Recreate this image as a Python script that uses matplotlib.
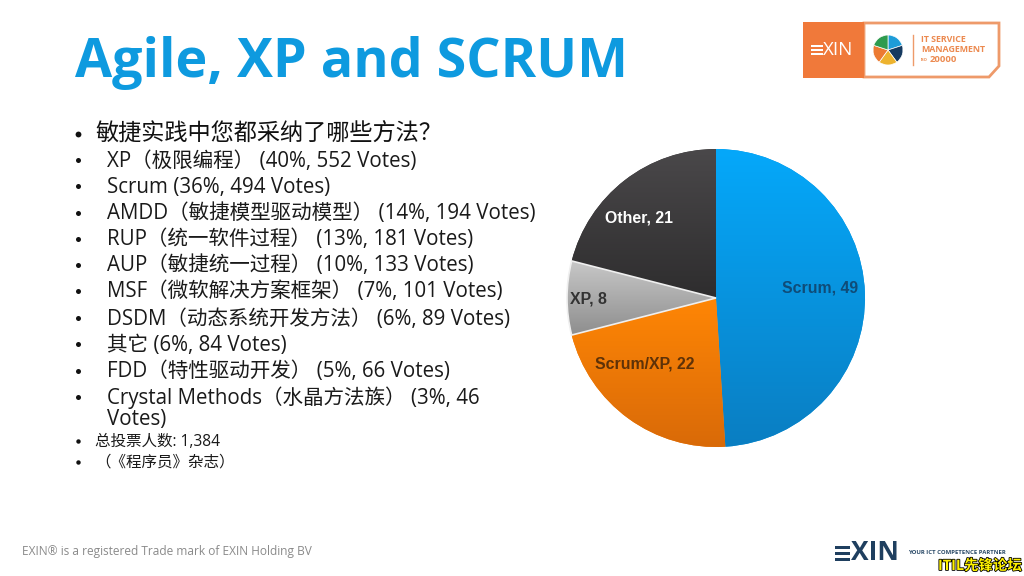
"""
Slide: Agile, XP and SCRUM survey results with a pie chart
"""
import matplotlib
matplotlib.use('Agg')
import matplotlib.patheffects as path_effects
import matplotlib.pyplot as plt
import numpy as np
from matplotlib.colors import LinearSegmentedColormap
from matplotlib.patches import Polygon, Rectangle

plt.rcParams['font.family'] = ['Open Sans', 'Noto Sans CJK SC', 'DejaVu Sans']

W, H = 1024, 576

TITLE = 'Agile, XP and SCRUM'
QUESTION = '敏捷实践中您都采纳了哪些方法？'
SURVEY_ITEMS = [
    'XP（极限编程） (40%, 552 Votes)',
    'Scrum (36%, 494 Votes)',
    'AMDD（敏捷模型驱动模型） (14%, 194 Votes)',
    'RUP（统一软件过程） (13%, 181 Votes)',
    'AUP（敏捷统一过程） (10%, 133 Votes)',
    'MSF（微软解决方案框架） (7%, 101 Votes)',
    'DSDM（动态系统开发方法） (6%, 89 Votes)',
    '其它 (6%, 84 Votes)',
    'FDD（特性驱动开发） (5%, 66 Votes)',
    'Crystal Methods（水晶方法族） (3%, 46\nVotes)',
]
NOTES = ['总投票人数: 1,384', '（《程序员》杂志）']

PIE_NAMES = ['Scrum', 'Scrum/XP', 'XP', 'Other']
PIE_VALUES = [49, 22, 8, 21]

LOGO_SHARES = [1, 1, 1, 1, 1]


def py(y):
    """Pixel row from the top to axis y"""
    return H - y


def bullet(ax, y, size):
    ax.plot([78], [py(y)], 'o', markersize=size, color='#111111', markeredgewidth=0)


def main():
    fig = plt.figure(figsize=(W / 100, H / 100), dpi=100)
    ax = fig.add_axes([0, 0, 1, 1])

    ax.text(75, py(56), TITLE, fontsize=38.8, fontweight='bold', color='#0E9ADF',
            ha='left', va='center_baseline')

    # Bullet list
    ys = [161, 187, 214, 240, 266, 292, 319, 345, 372]
    bullet(ax, 134, 4.2)
    ax.text(95, py(134), QUESTION, fontsize=16.7, color='#111111', ha='left', va='center')
    for item, y in zip(SURVEY_ITEMS[:-1], ys):
        bullet(ax, y - 1, 3.6)
        ax.text(107, py(y), item, fontsize=14.8, color='#1a1a1a', ha='left', va='center')
    first, second = SURVEY_ITEMS[-1].split('\n')
    bullet(ax, 397, 3.6)
    ax.text(107, py(398), first, fontsize=14.8, color='#1a1a1a', ha='left', va='center')
    ax.text(107, py(419), second, fontsize=14.8, color='#1a1a1a', ha='left', va='center')
    for note, y in zip(NOTES, [442, 463]):
        bullet(ax, y - 1, 3.2)
        ax.text(95, py(y), note, fontsize=11.2, color='#1a1a1a', ha='left', va='center')

    ax.text(22, py(551), 'EXIN® is a registered Trade mark of EXIN Holding BV',
            fontsize=8.6, color='#8a8a8a', ha='left', va='center')

    # Pie with a vertical gradient on every slice
    center = (716, py(298))
    radius = 149
    wedges, _ = ax.pie(PIE_VALUES, startangle=90, counterclock=False, center=center,
                       radius=radius, colors=['#0594E0', '#F57A05', '#B0B0B0', '#3C3A3C'])
    gradients = [('#05A8FA', '#0A7EC2'), ('#FF8605', '#D96A08'),
                 ('#C8C8C8', '#8E8E8E'), ('#4A484A', '#2E2D2E')]
    for wedge, (top, bottom) in zip(wedges, gradients):
        box = wedge.get_path().get_extents(wedge.get_patch_transform())
        cmap = LinearSegmentedColormap.from_list('slice', [top, bottom])
        img = ax.imshow(np.linspace(0, 1, 128).reshape(-1, 1), cmap=cmap, aspect='auto',
                        extent=(box.x0, box.x1, box.y0, box.y1), origin='upper', zorder=2)
        img.set_clip_path(wedge)
    # light rim around the gray slice
    wedges[2].set(edgecolor='#EFEFEF', linewidth=1.2, zorder=3, fill=False)

    label_pos = [(820, 288), (645, 364), (588, 299), (639, 218)]
    label_colors = ['#0F4C78', '#5E3208', '#333333', '#FFFFFF']
    for name, value, (x, y), color in zip(PIE_NAMES, PIE_VALUES, label_pos, label_colors):
        ax.text(x, py(y), f'{name}, {value}', fontsize=11.4, fontweight='bold', color=color,
                family='Liberation Sans', ha='center', va='center', zorder=5)

    # Top right logo
    orange = '#F0793A'
    ax.add_patch(Polygon([(864, py(23)), (999, py(23)), (999, py(66)), (989, py(77)), (864, py(77))],
                         closed=True, facecolor='white', edgecolor='#EE9A6A', linewidth=2))
    ax.add_patch(Rectangle((803, py(78)), 61, 56, facecolor=orange, edgecolor='none'))
    for y in (46, 50, 54):
        ax.add_patch(Rectangle((811, py(y) - 1), 12, 2, facecolor='white', edgecolor='none'))
    ax.text(823, py(50), 'XIN', fontsize=13.5, color='white', ha='left', va='center')
    ax.pie(LOGO_SHARES, startangle=90, counterclock=False, center=(888, py(50)), radius=15,
           colors=['#1E9CD8', '#163A5F', '#EDB32E', '#EC7A32', '#2E9B4E'],
           wedgeprops={'edgecolor': 'white', 'linewidth': 0.5})
    ax.plot([913, 913], [py(35), py(65)], color='#EE9A6A', linewidth=1)
    for text, y in zip(['IT SERVICE', 'MANAGEMENT'], [39, 50]):
        ax.text(921, py(y), text, fontsize=6.4, fontweight='bold', color='#EC8A50', ha='left', va='center')
    ax.text(921, py(60), 'ISO', fontsize=3, fontweight='bold', color='#EC8A50', ha='left', va='center')
    ax.text(930, py(60), '20000', fontsize=6.8, fontweight='bold', color='#EC8A50', ha='left', va='center')

    # Bottom right logo and watermark
    navy = '#1F3F5F'
    for y in (547, 553, 559):
        ax.add_patch(Rectangle((835, py(y) - 1.5), 15, 3, facecolor=navy, edgecolor='none'))
    ax.text(851, py(553), 'XIN', fontsize=19, fontweight='bold', color=navy, ha='left', va='center')
    ax.text(908, py(553), 'YOUR ICT COMPETENCE PARTNER', fontsize=4.3, fontweight='bold',
            color='#2A4A68', ha='left', va='center')
    ax.text(938, py(566), 'ITIL先锋论坛', fontsize=10.4, fontweight='bold', color='#FFF200',
            ha='left', va='center', zorder=6,
            path_effects=[path_effects.withStroke(linewidth=1.2, foreground='black')])

    ax.set_xlim(0, W)
    ax.set_ylim(0, H)
    ax.axis('off')
    fig.savefig('out.png', dpi=100, facecolor='white')
    plt.close(fig)


if __name__ == "__main__":
    main()
